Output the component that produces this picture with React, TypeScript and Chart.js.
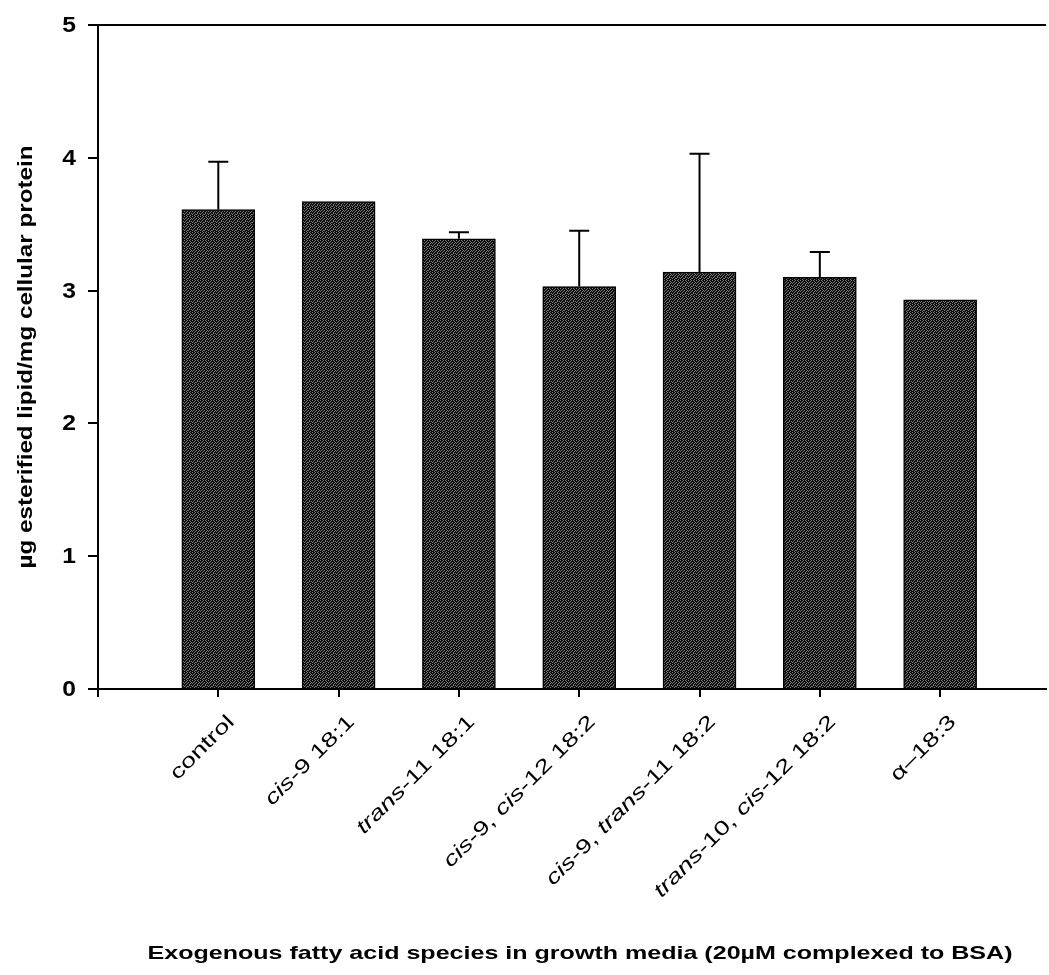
import React, { useEffect, useRef } from "react";
import { Chart, registerables } from "chart.js";

Chart.register(...registerables);

// ---- data ----
const categories = [
  "control",
  "*cis*-9 18:1",
  "*trans*-11 18:1",
  "*cis*-9, *cis*-12 18:2",
  "*cis*-9, *trans*-11 18:2",
  "*trans*-10, *cis*-12 18:2",
  "α–18:3",
];
const means = [3.61, 3.67, 3.39, 3.03, 3.14, 3.1, 2.93];
const upperErrors = [0.36, 0, 0.05, 0.42, 0.89, 0.19, 0];
const yTickValues = [0, 1, 2, 3, 4, 5];
const yTitle = "µg esterified lipid/mg cellular protein";
const xTitle = "Exogenous fatty acid species in growth media (20µM complexed to BSA)";

const FONT = '"Liberation Sans", Arial, Helvetica, sans-serif';

type Seg = { text: string; italic: boolean };

function parseSegs(label: string): Seg[] {
  return label
    .split("*")
    .map((t, i) => ({ text: t, italic: i % 2 === 1 }))
    .filter((s) => s.text.length > 0);
}

function fontFor(seg: Seg, size: number, weight: string) {
  return `${seg.italic ? "italic " : ""}${weight} ${size}px ${FONT}`;
}

function drawText(
  ctx: CanvasRenderingContext2D,
  segs: Seg[],
  x: number,
  y: number,
  rot: number,
  align: "left" | "right" | "center",
  sx: number | null,
  size: number,
  weight: string,
  baseline: CanvasTextBaseline,
  targetWidth?: number
) {
  ctx.save();
  let total = 0;
  const widths = segs.map((s) => {
    ctx.font = fontFor(s, size, weight);
    const w = ctx.measureText(s.text).width;
    total += w;
    return w;
  });
  const scaleX = targetWidth ? targetWidth / total : sx || 1;
  ctx.translate(x, y);
  ctx.rotate(rot);
  ctx.scale(scaleX, 1);
  let cur = align === "right" ? -total : align === "center" ? -total / 2 : 0;
  ctx.fillStyle = "#000";
  ctx.textAlign = "left";
  ctx.textBaseline = baseline;
  segs.forEach((s, i) => {
    ctx.font = fontFor(s, size, weight);
    ctx.fillText(s.text, cur, 0);
    cur += widths[i];
  });
  ctx.restore();
}

function makePattern(): CanvasPattern | string {
  const mask = [
    "10010100",
    "00100010",
    "01001001",
    "10010010",
    "00100100",
    "01000101",
    "10011000",
    "00100010",
  ];
  const c = document.createElement("canvas");
  c.width = 8;
  c.height = 8;
  const g = c.getContext("2d");
  if (!g) return "#2e2e2e";
  g.fillStyle = "#0e0e0e";
  g.fillRect(0, 0, 8, 8);
  g.fillStyle = "#7a7a7a";
  mask.forEach((row, yy) => {
    for (let xx = 0; xx < 8; xx++) if (row[xx] === "1") g.fillRect(xx, yy, 1, 1);
  });
  const p = g.createPattern(c, "repeat");
  return p || "#2e2e2e";
}

const errorBarPlugin = {
  id: "errorBars",
  afterDatasetsDraw(chart: any) {
    const ctx = chart.ctx as CanvasRenderingContext2D;
    const ys = chart.scales.y;
    const meta = chart.getDatasetMeta(0);
    ctx.save();
    ctx.strokeStyle = "#000";
    ctx.lineWidth = 2;
    meta.data.forEach((bar: any, i: number) => {
      const e = upperErrors[i];
      if (!e) return;
      const x = bar.x;
      const yBar = ys.getPixelForValue(means[i]);
      const yTop = ys.getPixelForValue(means[i] + e);
      ctx.beginPath();
      ctx.moveTo(x, yBar);
      ctx.lineTo(x, yTop);
      ctx.moveTo(x - 10, yTop);
      ctx.lineTo(x + 10, yTop);
      ctx.stroke();
    });
    ctx.restore();
  },
};

const labelsPlugin = {
  id: "customLabels",
  afterDraw(chart: any) {
    const ctx = chart.ctx as CanvasRenderingContext2D;
    const xs = chart.scales.x;
    const ys = chart.scales.y;
    const area = chart.chartArea;
    // y tick numbers
    yTickValues.forEach((v) => {
      drawText(ctx, [{ text: String(v), italic: false }], area.left - 22, ys.getPixelForValue(v) + 1, 0, "right", 1.12, 22, "bold", "middle");
    });
    // x category labels (rotated 45°)
    categories.forEach((c, i) => {
      const px = xs.getPixelForValue(i + 1);
      drawText(ctx, parseSegs(c), px + 13, area.bottom + 30, -Math.PI / 4, "right", 1.36, 20, "normal", "middle");
    });
    // y title
    drawText(ctx, [{ text: yTitle, italic: false }], 26, (area.top + area.bottom) / 2, -Math.PI / 2, "center", null, 21, "bold", "middle", 423);
    // x title
    drawText(ctx, [{ text: xTitle, italic: false }], 580, 959, 0, "center", null, 19, "bold", "alphabetic", 865);
  },
};

export default function App() {
  const ref = useRef<HTMLCanvasElement | null>(null);
  useEffect(() => {
    if (!ref.current) return;
    const fill = makePattern();
    const chart = new Chart(ref.current, {
      type: "bar",
      data: {
        datasets: [
          {
            data: means.map((m, i) => ({ x: i + 1, y: m })),
            backgroundColor: fill as any,
            borderColor: "#000",
            borderWidth: 1.5,
            barThickness: 73,
          },
        ],
      },
      options: {
        animation: false,
        responsive: true,
        maintainAspectRatio: false,
        devicePixelRatio: 1,
        layout: { padding: { left: 0, right: 3, top: 25, bottom: 0 } },
        plugins: { legend: { display: false }, tooltip: { enabled: false }, title: { display: false } },
        scales: {
          x: {
            type: "linear",
            min: 0,
            max: 7.88,
            offset: false,
            ticks: { stepSize: 1, includeBounds: false, display: false },
            grid: {
              offset: false,
              drawOnChartArea: false,
              drawTicks: true,
              tickLength: 8,
              color: "#000",
              tickColor: "#000",
              lineWidth: 2,
            },
            border: { display: true, color: "#000", width: 2 },
            afterFit: (s: any) => {
              s.height = 286;
            },
          },
          y: {
            type: "linear",
            min: 0,
            max: 5,
            ticks: { stepSize: 1, display: false },
            grid: {
              drawOnChartArea: true,
              drawTicks: true,
              tickLength: 10,
              color: (c: any) => (c.tick && c.tick.value === 5 ? "#000" : "rgba(0,0,0,0)"),
              tickColor: "#000",
              lineWidth: 2,
            },
            border: { display: true, color: "#000", width: 2 },
            afterFit: (s: any) => {
              s.width = 98;
            },
          },
        },
      },
      plugins: [errorBarPlugin, labelsPlugin],
    });
    return () => chart.destroy();
  }, []);
  return (
    <div style={{ position: "absolute", left: 0, top: 0, width: 1049, height: 975, background: "#fff" }}>
      <canvas ref={ref} />
    </div>
  );
}
